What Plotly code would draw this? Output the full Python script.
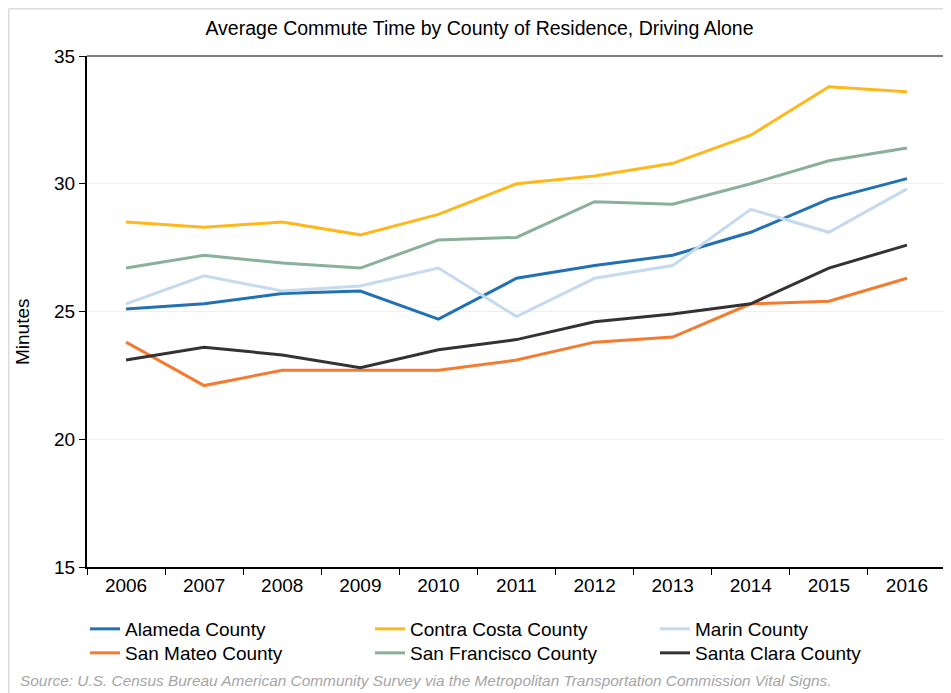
import plotly.graph_objects as go

years = ["2006", "2007", "2008", "2009", "2010", "2011", "2012", "2013", "2014", "2015", "2016"]
alameda = [25.1, 25.3, 25.7, 25.8, 24.7, 26.3, 26.8, 27.2, 28.1, 29.4, 30.2]
contra_costa = [28.5, 28.3, 28.5, 28.0, 28.8, 30.0, 30.3, 30.8, 31.9, 33.8, 33.6]
marin = [25.3, 26.4, 25.8, 26.0, 26.7, 24.8, 26.3, 26.8, 29.0, 28.1, 29.8]
san_mateo = [23.8, 22.1, 22.7, 22.7, 22.7, 23.1, 23.8, 24.0, 25.3, 25.4, 26.3]
san_francisco = [26.7, 27.2, 26.9, 26.7, 27.8, 27.9, 29.3, 29.2, 30.0, 30.9, 31.4]
santa_clara = [23.1, 23.6, 23.3, 22.8, 23.5, 23.9, 24.6, 24.9, 25.3, 26.7, 27.6]

series = [
    ("Alameda County", alameda, "#2271b3", "legend"),
    ("Contra Costa County", contra_costa, "#ffb81c", "legend"),
    ("Marin County", marin, "#c5d9ef", "legend"),
    ("San Mateo County", san_mateo, "#f47b30", "legend2"),
    ("San Francisco County", san_francisco, "#88b09a", "legend2"),
    ("Santa Clara County", santa_clara, "#333333", "legend2"),
]

FONT = "Liberation Sans, Arial, sans-serif"
W, H = 943, 685          # page body has an 8px margin
L, R, T, B = 79, 5, 48, 126
PW, PH = W - L - R, H - T - B

fig = go.Figure()
for name, vals, color, leg in series:
    fig.add_trace(go.Scatter(x=years, y=vals, name=name, mode="lines", legend=leg,
                             line=dict(color=color, width=3)))

legend_common = dict(orientation="h", xref="container", yref="container",
                     x=77 / W, xanchor="left", yanchor="middle",
                     entrywidth=240, entrywidthmode="pixels",
                     font=dict(size=19, family=FONT), itemwidth=30,
                     bgcolor="rgba(0,0,0,0)", borderwidth=0)

fig.update_layout(
    width=W, height=H,
    margin=dict(l=L, r=R, t=T, b=B, autoexpand=False),
    paper_bgcolor="white", plot_bgcolor="white",
    font=dict(family=FONT, size=19, color="black"),
    title=dict(text="Average Commute Time by County of Residence, Driving Alone",
               x=0.5, xanchor="center", y=1 - 20 / H, yanchor="middle",
               font=dict(size=19.5)),
    showlegend=True,
    legend=dict(legend_common, y=1 - 621 / H),
    legend2=dict(legend_common, y=1 - 645 / H),
)

fig.update_xaxes(type="category", showline=True, linecolor="black", linewidth=2,
                 ticks="outside", ticklen=6, tickcolor="black", tickson="boundaries",
                 showgrid=False, tickfont=dict(size=19), range=[-0.5, 10.5], automargin=False)
fig.update_yaxes(range=[15, 35], dtick=5, showline=True, linecolor="black", linewidth=2,
                 ticks="outside", ticklen=6, tickcolor="black",
                 showgrid=True, gridcolor="#efefef", gridwidth=1, zeroline=False,
                 tickfont=dict(size=19), automargin=False)

def px(xf):
    return (xf - L) / PW

def py(yf):
    return (H - B - yf) / PH

# plot frame top/right
fig.add_shape(type="line", xref="paper", yref="paper", x0=0, x1=1, y0=1, y1=1,
              line=dict(color="#555555", width=1.5))
fig.add_shape(type="line", xref="paper", yref="paper", x0=1, x1=1, y0=0, y1=1,
              line=dict(color="#555555", width=1.5))
# outer light frame
fig.add_shape(type="line", xref="paper", yref="paper", x0=px(0.75), x1=px(W), y0=py(0.75), y1=py(0.75),
              line=dict(color="#dcdcdc", width=1.5))
fig.add_shape(type="line", xref="paper", yref="paper", x0=px(0.75), x1=px(0.75), y0=py(0.75), y1=py(H),
              line=dict(color="#dcdcdc", width=1.5))

fig.add_annotation(text="Minutes", xref="paper", yref="paper", x=px(14), y=py(324),
                   xanchor="center", yanchor="middle", textangle=-90, showarrow=False,
                   font=dict(size=19, family=FONT, color="black"))

fig.add_annotation(text="<i>Source: U.S. Census Bureau American Community Survey via the Metropolitan Transportation Commission Vital Signs.</i>",
                   xref="paper", yref="paper", x=px(10), xanchor="left", y=py(673), yanchor="middle",
                   showarrow=False, font=dict(size=15.4, color="#a6a6a6", family=FONT))

fig.write_html("out.html")
